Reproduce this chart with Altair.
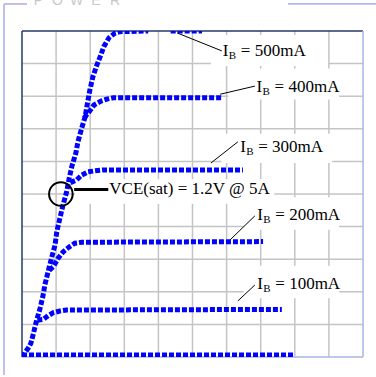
import altair as alt
import pandas as pd

# ---------------- data (V_CE in volts, I_C in amps) ----------------
sat_x = [0.0, 0.06, 0.18, 0.26, 0.33, 0.43, 0.53, 0.61, 0.67, 0.77, 0.87, 0.97, 1.02, 1.11,
         1.20, 1.31, 1.38, 1.46, 1.58, 1.64, 1.75, 1.85, 1.92, 1.99, 2.08, 2.19, 2.31, 2.40,
         2.55, 2.73, 2.87, 3.70]
sat_y = [0.0, 0.09, 0.27, 0.42, 0.70, 1.13, 1.49, 1.85, 2.21, 2.64, 3.05, 3.44, 3.84, 4.25,
         4.65, 5.07, 5.46, 5.84, 6.26, 6.60, 7.02, 7.36, 7.79, 8.19, 8.60, 8.94, 9.26, 9.52,
         9.79, 9.94, 9.98, 10.0]
top500_x = [4.36, 5.28]
top500_y = [10.0, 10.0]
ib400_x = [1.82, 1.99, 2.11, 2.32, 2.49, 2.67, 5.84]
ib400_y = [7.33, 7.55, 7.73, 7.85, 7.91, 7.95, 7.95]
ib300_x = [1.42, 1.60, 1.75, 1.94, 2.14, 2.38, 6.48]
ib300_y = [5.35, 5.43, 5.58, 5.68, 5.71, 5.74, 5.74]
ib200_x = [0.80, 0.92, 1.06, 1.21, 1.39, 1.55, 1.75, 7.07]
ib200_y = [2.66, 2.77, 3.03, 3.23, 3.38, 3.49, 3.52, 3.54]
ib100_x = [0.45, 0.62, 0.77, 0.92, 1.11, 1.31, 7.62]
ib100_y = [1.13, 1.15, 1.27, 1.36, 1.41, 1.44, 1.46]
ib0_x = [0.0, 8.0]
ib0_y = [0.06, 0.06]

label_vals = ["500mA", "400mA", "300mA", "200mA", "100mA"]
label_x = [5.89, 6.88, 6.40, 6.90, 6.90]
label_y = [9.24, 8.14, 6.30, 4.21, 2.09]

leader_x1 = [4.55, 5.81, 5.54, 6.10, 6.33]
leader_y1 = [9.94, 8.06, 5.95, 3.59, 1.72]
leader_x2 = [5.86, 6.83, 6.33, 6.83, 6.83]
leader_y2 = [9.39, 8.31, 6.60, 4.33, 2.21]

# white boxes behind annotation texts
box_x1 = [5.54, 6.05, 5.85, 6.50, 6.50, 1.55]
box_x2 = [8.97, 9.30, 9.10, 9.30, 9.30, 7.40]
box_y1 = [8.93, 7.90, 5.95, 3.90, 1.80, 4.70]
box_y2 = [9.88, 8.85, 6.85, 4.90, 2.80, 5.45]

vce_text = ["VCE(sat) = 1.2V @ 5A"]
vce_x = [2.56]
vce_y = [5.0]
mark_x = [1.14]
mark_y = [5.0]
pointer_x1 = [1.53]
pointer_x2 = [2.53]
pointer_y = [5.14]

grid_vals = [1, 2, 3, 4, 5, 6, 7, 8, 9]
brand_letters = ["P", "O", "W", "E", "R"]

# ---------------- tables ----------------
rows = []
for name, xs_, ys_ in [("sat", sat_x, sat_y), ("top500", top500_x, top500_y),
                       ("400", ib400_x, ib400_y), ("300", ib300_x, ib300_y),
                       ("200", ib200_x, ib200_y), ("100", ib100_x, ib100_y),
                       ("0", ib0_x, ib0_y)]:
    for i, (a, b) in enumerate(zip(xs_, ys_)):
        rows.append({"curve": name, "order": i, "x": a, "y": b})
curves = pd.DataFrame(rows)

labels = pd.DataFrame({"v": label_vals, "x": label_x, "y": label_y})
labels["rest"] = "= " + labels["v"]
leaders = pd.DataFrame({"x": leader_x1, "y": leader_y1, "x2": leader_x2, "y2": leader_y2})
boxes = pd.DataFrame({"x": box_x1, "x2": box_x2, "y": box_y1, "y2": box_y2})
vce = pd.DataFrame({"t": vce_text, "x": vce_x, "y": vce_y})
circ = pd.DataFrame({"x": mark_x, "y": mark_y})
pointer = pd.DataFrame({"x": pointer_x1, "x2": pointer_x2, "y": pointer_y})
grid = pd.DataFrame({"v": grid_vals})
brand = pd.DataFrame({"t": brand_letters,
                      "x": [0.478 + 0.563 * i for i in range(len(brand_letters))],
                      "y": [10.80] * len(brand_letters)})

xs = alt.Scale(domain=[0, 10], nice=False, zero=False)
ys = alt.Scale(domain=[0, 10], nice=False, zero=False)
X = lambda f="x": alt.X(f + ":Q", scale=xs, axis=None)
Y = lambda f="y": alt.Y(f + ":Q", scale=ys, axis=None)

gridx = alt.Chart(grid).mark_rule(color="#C4C4C4", strokeWidth=1.5).encode(x=alt.X("v:Q", scale=xs, axis=None))
gridy = alt.Chart(grid).mark_rule(color="#C4C4C4", strokeWidth=1.5).encode(y=alt.Y("v:Q", scale=ys, axis=None))

box_layer = alt.Chart(boxes).mark_rect(color="white").encode(x=X(), x2="x2:Q", y=Y(), y2="y2:Q")

frame_dark_v = alt.Chart(pd.DataFrame({"v": [0]})).mark_rule(color="#26386A", strokeWidth=1.5).encode(x=alt.X("v:Q", scale=xs, axis=None))
frame_dark_h = alt.Chart(pd.DataFrame({"v": [10]})).mark_rule(color="#26386A", strokeWidth=1.5).encode(y=alt.Y("v:Q", scale=ys, axis=None))
frame_lt_v = alt.Chart(pd.DataFrame({"v": [10]})).mark_rule(color="#A9B6E4", strokeWidth=1.5).encode(x=alt.X("v:Q", scale=xs, axis=None))
frame_lt_h = alt.Chart(pd.DataFrame({"v": [0]})).mark_rule(color="#A9B6E4", strokeWidth=1.5).encode(y=alt.Y("v:Q", scale=ys, axis=None))

curve_layer = alt.Chart(curves).mark_line(
    color="#0000FF", strokeWidth=5, strokeDash=[5, 2], strokeCap="butt", clip=True
).encode(x=X(), y=Y(), detail="curve:N", order="order:Q")

circle_layer = alt.Chart(circ).mark_point(
    shape="circle", size=556, filled=False, color="black", strokeWidth=2, opacity=1
).encode(x=X(), y=Y())
pointer_layer = alt.Chart(pointer).mark_rule(color="black", strokeWidth=3).encode(x=X(), x2="x2:Q", y=Y())
leader_layer = alt.Chart(leaders).mark_rule(color="black", strokeWidth=1).encode(x=X(), x2="x2:Q", y=Y(), y2="y2:Q")

font = "Liberation Serif"
t_I = alt.Chart(labels).mark_text(text="I", font=font, fontSize=17, align="left", baseline="alphabetic", color="black").encode(x=X(), y=Y())
t_B = alt.Chart(labels).mark_text(text="B", font=font, fontSize=11, align="left", baseline="alphabetic", dx=6, dy=3, color="black").encode(x=X(), y=Y())
t_rest = alt.Chart(labels).mark_text(font=font, fontSize=17, align="left", baseline="alphabetic", dx=18, color="black").encode(x=X(), y=Y(), text="rest:N")
t_vce = alt.Chart(vce).mark_text(font=font, fontSize=17, align="left", baseline="alphabetic", color="black").encode(x=X(), y=Y(), text="t:N")

deco_v = alt.Chart(pd.DataFrame({"x": [-0.528], "y": [10.83], "y2": [-0.55]})).mark_rule(color="#B4B4F0", strokeWidth=1.7).encode(x=X(), y=Y(), y2="y2:Q")
deco_h = alt.Chart(pd.DataFrame({"x": [-0.528, 7.80], "x2": [0.147, 10.40], "y": [10.83, 10.83]})).mark_rule(color="#B4B4F0", strokeWidth=1.7).encode(x=X(), x2="x2:Q", y=Y())
brand_layer = alt.Chart(brand).mark_text(font="Liberation Sans", fontSize=14, color="#C8C8C8", align="center", baseline="alphabetic").encode(x=X(), y=Y(), text="t:N")

chart = alt.layer(
    gridx, gridy, box_layer, frame_dark_v, frame_dark_h, frame_lt_v, frame_lt_h,
    curve_layer, circle_layer, pointer_layer, leader_layer,
    t_I, t_B, t_rest, t_vce, deco_v, deco_h, brand_layer
).properties(
    width=341, height=326,
    padding={"left": 22, "top": 31, "right": 13, "bottom": 20},
    autosize=alt.AutoSizeParams(type="none"),
    background="white",
).configure_view(stroke=None)

chart.save("out.html", embed_options={"renderer": "svg", "actions": False})
